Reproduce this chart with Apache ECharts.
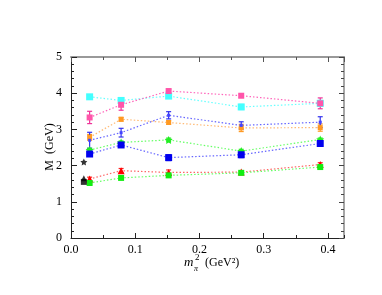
<!DOCTYPE html>
<html><head><meta charset="utf-8">
<script src="https://cdn.jsdelivr.net/npm/echarts@6/dist/echarts.min.js"></script>
<style>html,body{margin:0;padding:0;background:#fff}#c{width:382px;height:295px}</style>
</head><body><div id="c"></div>
<script>
var mpi2 = [0.029, 0.078, 0.152, 0.265, 0.388];
var cyanM   = [3.90, 3.80, 3.92, 3.62, 3.72];
var cyanE   = [0.05, 0.07, 0.05, 0.07, 0.08];
var magM    = [3.33, 3.68, 4.06, 3.93, 3.72];
var magE    = [0.17, 0.15, 0.04, 0.04, 0.15];
var orM     = [2.78, 3.28, 3.19, 3.04, 3.05];
var orE     = [0.08, 0.05, 0.05, 0.10, 0.10];
var blueEM  = [2.70, 2.91, 3.39, 3.11, 3.20];
var blueEE  = [0.22, 0.12, 0.10, 0.10, 0.15];
var gStarM  = [2.43, 2.64, 2.71, 2.40, 2.72];
var gStarE  = [0.05, 0.04, 0.05, 0.05, 0.04];
var bSqM    = [2.32, 2.57, 2.22, 2.30, 2.61];
var bSqE    = [0.05, 0.05, 0.08, 0.08, 0.04];
var redM    = [1.63, 1.86, 1.81, 1.82, 2.03];
var redE    = [0.05, 0.06, 0.07, 0.03, 0.05];
var gSqM    = [1.52, 1.66, 1.73, 1.80, 1.96];
var gSqE    = [0.03, 0.03, 0.03, 0.03, 0.03];
var blackX  = 0.02;
var blackStar = 2.10, blackTri = 1.65, blackSq = 1.55;
var xTicks = ['0.0','0.1','0.2','0.3','0.4'];
var yTicks = ['0','1','2','3','4','5'];

var starPath = 'path://M0,-10L2.9,-4L9.5,-3.1L4.7,1.5L5.9,8.1L0,5L-5.9,8.1L-4.7,1.5L-9.5,-3.1L-2.9,-4Z';
var FONT = '"Liberation Serif", "DejaVu Serif", serif';
var XMAX = 0.425, YMAX = 5;

function pts(ys){ return mpi2.map(function(x,i){ return [x, ys[i]]; }); }
function errData(ys, es){ return mpi2.map(function(x,i){ return [x, ys[i]-es[i], ys[i]+es[i]]; }); }

function errSeries(ys, es, color){
  return {
    type:'custom', silent:true, z:3,
    data: errData(ys, es),
    renderItem: function(params, api){
      var lo = api.coord([api.value(0), api.value(1)]);
      var hi = api.coord([api.value(0), api.value(2)]);
      var w = 2.5;
      var st = {stroke: color, lineWidth: 1.2};
      return {type:'group', children:[
        {type:'line', shape:{x1:lo[0],y1:lo[1],x2:hi[0],y2:hi[1]}, style:st},
        {type:'line', shape:{x1:lo[0]-w,y1:lo[1],x2:lo[0]+w,y2:lo[1]}, style:st},
        {type:'line', shape:{x1:hi[0]-w,y1:hi[1],x2:hi[0]+w,y2:hi[1]}, style:st}
      ]};
    }
  };
}
function lineSeries(ys, lineColor, symColor, symbol, size){
  return {
    type:'line', data: pts(ys), symbol: symbol, symbolSize: size, z:4,
    showSymbol: true, animation:false,
    lineStyle:{color: lineColor, width:1.2, type:[1.5,2]},
    itemStyle:{color: symColor, opacity:1}
  };
}

var series = [
  errSeries(cyanM, cyanE, '#44eeee'),
  lineSeries(cyanM, '#66ffff', '#44ffff', 'rect', 7),
  errSeries(magM, magE, '#ee3399'),
  lineSeries(magM, '#ff66bb', '#ff55aa', 'rect', 6),
  errSeries(orM, orE, '#ff9922'),
  lineSeries(orM, '#ffbb77', '#ff9922', 'rect', 5),
  errSeries(blueEM, blueEE, '#3333ee'),
  lineSeries(blueEM, '#6666ff', '#4444ff', 'rect', 3),
  errSeries(gStarM, gStarE, '#22ee22'),
  lineSeries(gStarM, '#66ff66', '#22ee22', starPath, 8),
  errSeries(bSqM, bSqE, '#2222ee'),
  lineSeries(bSqM, '#6666ff', '#0000ee', 'rect', 7),
  errSeries(redM, redE, '#ff2222'),
  lineSeries(redM, '#ff6666', '#ff0000', 'triangle', 7),
  errSeries(gSqM, gSqE, '#22ee22'),
  lineSeries(gSqM, '#66ff66', '#11ee11', 'rect', 6),
  {type:'scatter', data:[[blackX, blackStar]], symbol: starPath, symbolSize:7, itemStyle:{color:'#000'}, z:5},
  {type:'scatter', data:[[blackX, blackTri]], symbol:'triangle', symbolSize:6, itemStyle:{color:'#000'}, z:5},
  {type:'scatter', data:[[blackX, blackSq]], symbol:'rect', symbolSize:6, itemStyle:{color:'#000'}, z:5}
];

function tickAxis(pos, max, interval, len, lineShow, lineColor, lineWidth, tickColor){
  return {
    type:'value', position:pos, min:0, max:max, interval:interval,
    axisLine:{show:lineShow, onZero:false, lineStyle:{color:lineColor, width:lineWidth}},
    axisTick:{show:true, inside:true, length:len, lineStyle:{color:tickColor}},
    splitLine:{show:false}, axisLabel:{show:false}
  };
}

var chart = echarts.init(document.getElementById('c'), null, {renderer:'canvas'});
chart.setOption({
  animation:false,
  backgroundColor:'#fff',
  grid:{left:71, right:38, top:57, bottom:57, containLabel:false},
  xAxis:[{
    type:'value', position:'bottom', min:0, max:XMAX, interval:0.1,
    axisLine:{show:true, onZero:false, lineStyle:{color:'#222', width:1}},
    axisTick:{show:true, inside:true, length:5, lineStyle:{color:'#222'}},
    splitLine:{show:false},
    axisLabel:{margin:6, color:'#000', fontFamily:FONT, fontSize:12,
      formatter:function(v){ var i=Math.round(v*10); return xTicks[i]!==undefined?xTicks[i]:''; },
      showMaxLabel:false}
  },
    tickAxis('bottom', XMAX, 0.05, 3, false, '#222', 1, '#222'),
    tickAxis('top', XMAX, 0.1, 5, true, '#999', 2, '#555'),
    tickAxis('top', XMAX, 0.05, 3, false, '#999', 2, '#555')
  ],
  yAxis:[{
    type:'value', position:'left', min:0, max:YMAX, interval:1,
    axisLine:{show:true, onZero:false, lineStyle:{color:'#222', width:1}},
    axisTick:{show:true, inside:true, length:6, lineStyle:{color:'#222'}},
    splitLine:{show:false},
    axisLabel:{margin:9, color:'#000', fontFamily:FONT, fontSize:12,
      formatter:function(v){ return yTicks[Math.round(v)]; }}
  },
    tickAxis('left', YMAX, 0.2, 3, false, '#222', 1, '#222'),
    tickAxis('right', YMAX, 1, 5, true, '#888', 1.5, '#444'),
    tickAxis('right', YMAX, 0.2, 3, false, '#888', 1.5, '#444')
  ],
  graphic:[
    {type:'text', x:50, y:147, rotation:Math.PI/2,
      style:{text:'M  (GeV)', font:'12px '+FONT, fill:'#000', align:'center', verticalAlign:'middle'}},
    {type:'text', left:184, top:256, style:{text:'m', font:'italic 13px '+FONT, fill:'#000'}},
    {type:'text', left:194, top:265, style:{text:'π', font:'italic 8px '+FONT, fill:'#000'}},
    {type:'text', left:195, top:253, style:{text:'2', font:'9px '+FONT, fill:'#000'}},
    {type:'text', left:205, top:257, style:{text:'(GeV²)', font:'12px '+FONT, fill:'#000'}}
  ],
  series: series
});
</script>
</body></html>
